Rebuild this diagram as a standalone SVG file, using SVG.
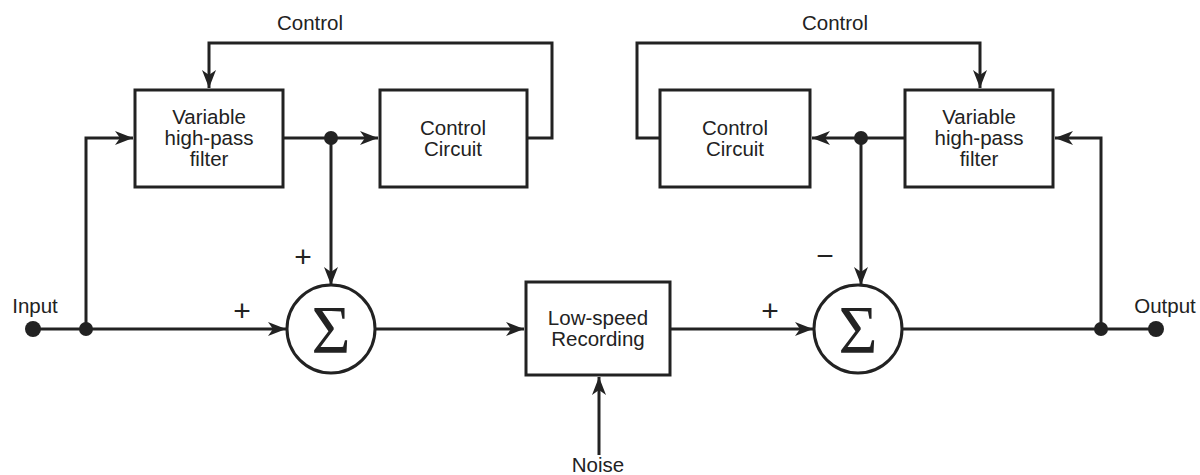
<svg xmlns="http://www.w3.org/2000/svg" width="1200" height="475" viewBox="0 0 1200 475">
<style>
.box{fill:#fff;stroke:#222;stroke-width:3}
.ln{fill:none;stroke:#222;stroke-width:3}
.t{font-family:"Liberation Sans",Arial,sans-serif;font-size:20.5px;fill:#222;text-anchor:middle}
.op{font-family:"Liberation Sans",Arial,sans-serif;font-size:30px;fill:#222;text-anchor:middle}
.sig{font-family:"Liberation Serif","Times New Roman",serif;font-size:67px;fill:#222;text-anchor:middle}
.dot{fill:#222}
</style>
<defs>
<marker id="ar" markerUnits="userSpaceOnUse" markerWidth="20" markerHeight="16" refX="18" refY="7" orient="auto">
<path d="M0,0 L18,7 L0,14 L5,7 z" fill="#222"/>
</marker>
</defs>
<rect width="1200" height="475" fill="#fff"/>
<g id="connectors">
<path class="ln" d="M527,138 H552 V43 H209 V88" marker-end="url(#ar)"/>
<path class="ln" d="M283,138 H378" marker-end="url(#ar)"/>
<path class="ln" d="M331,138 V285" marker-end="url(#ar)"/>
<path class="ln" d="M86,329 V138 H133" marker-end="url(#ar)"/>
<path class="ln" d="M33,329 H286" marker-end="url(#ar)"/>
<path class="ln" d="M375,329 H524" marker-end="url(#ar)"/>
<path class="ln" d="M599,455 V377" marker-end="url(#ar)"/>
<path class="ln" d="M670,329 H813" marker-end="url(#ar)"/>
<path class="ln" d="M901,329 H1156"/>
<path class="ln" d="M1101,329 V138 H1055" marker-end="url(#ar)"/>
<path class="ln" d="M905,138 H812" marker-end="url(#ar)"/>
<path class="ln" d="M861,138 V285" marker-end="url(#ar)"/>
<path class="ln" d="M660,138 H637 V43 H980 V88" marker-end="url(#ar)"/>
<circle class="dot" cx="331" cy="138" r="7"/>
<circle class="dot" cx="861" cy="138" r="7"/>
<circle class="dot" cx="86" cy="329" r="7"/>
<circle class="dot" cx="33" cy="329" r="8"/>
<circle class="dot" cx="1101" cy="329" r="7"/>
<circle class="dot" cx="1156" cy="329" r="8"/>
</g>
<g id="vhp-left">
<rect class="box" x="135" y="90" width="148" height="97"/>
<text class="t" x="209" y="124">Variable</text>
<text class="t" x="209" y="145">high-pass</text>
<text class="t" x="209" y="166">filter</text>
</g>
<g id="cc-left">
<rect class="box" x="380" y="90" width="147" height="97"/>
<text class="t" x="453" y="135">Control</text>
<text class="t" x="453" y="156">Circuit</text>
</g>
<g id="sum-left">
<circle class="box" cx="331" cy="329" r="44"/>
<text class="sig" x="331" y="352">Σ</text>
</g>
<g id="recorder">
<rect class="box" x="526" y="282" width="144" height="93"/>
<text class="t" x="598" y="325">Low-speed</text>
<text class="t" x="598" y="346">Recording</text>
</g>
<g id="sum-right">
<circle class="box" cx="858" cy="329" r="44"/>
<text class="sig" x="858" y="352">Σ</text>
</g>
<g id="cc-right">
<rect class="box" x="660" y="90" width="150" height="97"/>
<text class="t" x="735" y="135">Control</text>
<text class="t" x="735" y="156">Circuit</text>
</g>
<g id="vhp-right">
<rect class="box" x="905" y="90" width="148" height="97"/>
<text class="t" x="979" y="124">Variable</text>
<text class="t" x="979" y="145">high-pass</text>
<text class="t" x="979" y="166">filter</text>
</g>
<g id="labels">
<text class="t" x="310" y="30">Control</text>
<text class="t" x="835" y="30">Control</text>
<text class="t" x="35" y="313">Input</text>
<text class="t" x="1165" y="313">Output</text>
<text class="t" x="598" y="472">Noise</text>
<text class="op" x="303" y="267">+</text>
<text class="op" x="242" y="321">+</text>
<text class="op" x="770" y="321">+</text>
<text class="op" x="825" y="266">−</text>
</g>
</svg>
